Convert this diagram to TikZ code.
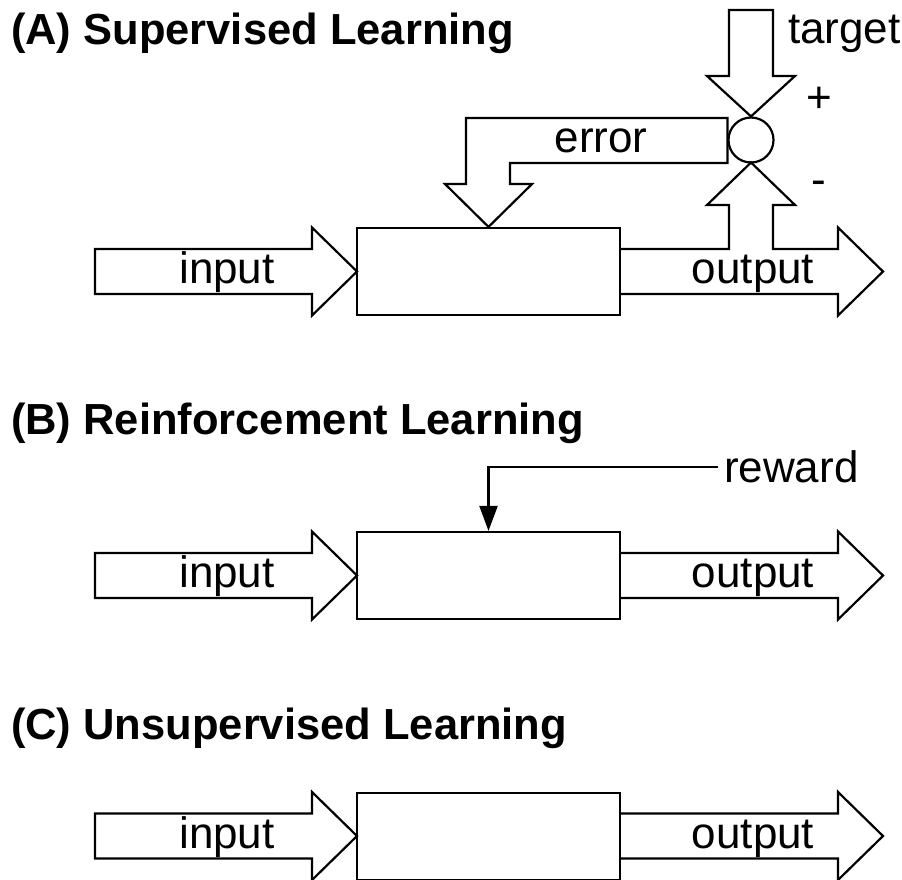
\documentclass[tikz,border=0pt]{standalone}
\usepackage{fontspec}
\setmainfont{Liberation Sans}
\usetikzlibrary{arrows.meta}
\newcommand\inarrow[1]{%
  \draw (95,{#1-22.5}) -- (312,{#1-22.5}) -- (312,{#1-44}) -- (357,#1) -- (312,{#1+44}) -- (312,{#1+22.5}) -- (95,{#1+22.5}) -- cycle;
  \node[lbl, anchor=base] at (227,{#1+12}) {input};}
\newcommand\outarrow[1]{%
  \draw (620,{#1-22.5}) -- (838,{#1-22.5}) -- (838,{#1-44}) -- (883,#1) -- (838,{#1+44}) -- (838,{#1+22.5}) -- (620,{#1+22.5});
  \node[lbl, anchor=base] at (753,{#1+12}) {output};}
\begin{document}
\begin{tikzpicture}[x=1pt,y=-1pt, line width=2.2pt, line join=miter,
  lbl/.style={font=\fontsize{44}{50}\selectfont, inner sep=0pt},
  ttl/.style={font=\bfseries\fontsize{43.5}{50}\selectfont, anchor=base west, inner sep=0pt},
  blk/.style={draw, rectangle, minimum width=263pt, minimum height=87pt, inner sep=0pt},
  sumnode/.style={draw, circle, minimum size=45pt, inner sep=0pt}]
\useasboundingbox (0,0) rectangle (902,879);

% ---------- (A) Supervised Learning ----------
\node[ttl] (titleA) at (10,44) {(A) Supervised Learning};
\node[blk] (boxA) at (488.5,271.5) {};
\inarrow{271.5}
% output arrow with branch to summing junction
\draw (620,249) -- (729,249) -- (729,205) -- (707,205) -- (751,162.5) -- (795,205) -- (773,205) -- (773,249) -- (838,249) -- (838,227.5) -- (883,271.5) -- (838,315.5) -- (838,294) -- (620,294);
\node[lbl, anchor=base] (outA) at (753,283.5) {output};
% summing junction
\node[sumnode] (sum) at (751,140) {};
% target arrow
\draw (729,10) -- (729,76) -- (707,76) -- (sum.north) -- (795,76) -- (773,76) -- (773,10) -- cycle;
\node[lbl, anchor=base west] (target) at (787,43) {target};
\node[lbl] (plus) at (819,100) {+};
\node[lbl] (minus) at (819,188) {-};
% error arrow
\draw (sum.west |- 0,118) -- (466,118) -- (466,184) -- (445,184) -- (boxA.north) -- (532,184) -- (510,184) -- (510,163) -- (sum.west |- 0,163) -- cycle;
\node[lbl, anchor=base] (error) at (601,152) {error};

% ---------- (B) Reinforcement Learning ----------
\node[ttl] (titleB) at (10,434) {(B) Reinforcement Learning};
\node[blk] (boxB) at (488.5,575.5) {};
\inarrow{575.5}
\outarrow{575.5}
\node[lbl, anchor=west, inner xsep=5pt] (reward) at (718,467) {reward};
\draw[-{Triangle[length=25pt,width=18pt]}] (reward.west) -| (boxB.north);

% ---------- (C) Unsupervised Learning ----------
\node[ttl] (titleC) at (10,739) {(C) Unsupervised Learning};
\node[blk] (boxC) at (488.5,836.5) {};
\inarrow{836}
\outarrow{836}
\end{tikzpicture}
\end{document}
